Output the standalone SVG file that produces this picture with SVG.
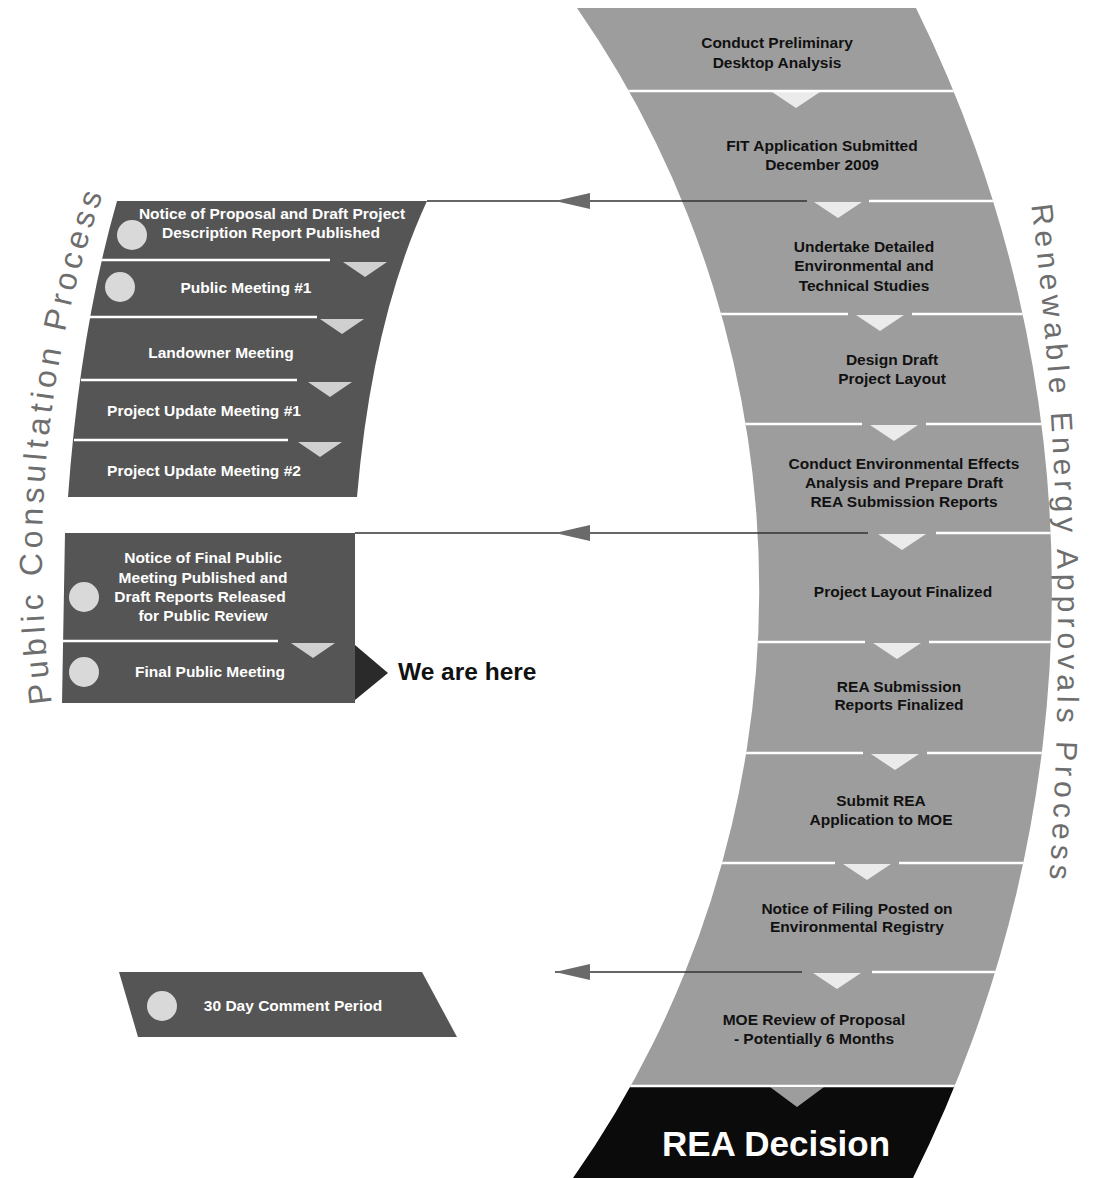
<svg xmlns="http://www.w3.org/2000/svg" width="1102" height="1178" viewBox="0 0 1102 1178">
<style>
.bt{font-family:"Liberation Sans",Arial,sans-serif;font-weight:bold;font-size:15.5px;fill:#111;text-anchor:middle}
.pt{font-family:"Liberation Sans",Arial,sans-serif;font-weight:bold;font-size:15.5px;fill:#fff;text-anchor:middle}
.title{font-family:"Liberation Sans",Arial,sans-serif;font-size:30px;letter-spacing:5px;fill:#6e6e6e}
.ltitle{font-family:"Liberation Sans",Arial,sans-serif;font-size:32px;letter-spacing:4.5px;fill:#6e6e6e}
.div{stroke:#fff;stroke-width:2.5;fill:none}
.chev{fill:#fff;opacity:.8}
.pchev{fill:#e6e6e6;opacity:.85}
.panel{fill:#555}
.dot{fill:#d9d9d9}
.conn{stroke:#333;stroke-width:1.6;fill:none}
.ah{fill:#6a6a6a}
</style>
<defs>
<clipPath id="bandClip"><path d="M577,8 L916,8 A1314,1314 0 0 1 913,1178 L573,1178 A1021,1021 0 0 0 577,8 Z"/></clipPath>
<path id="rtitle" d="M1030,195 A3490,3490 0 0 1 1048,900"/>
<path id="ltitle" d="M53.5,715 A1104,1104 0 0 1 119.4,150"/>
</defs>
<rect width="1102" height="1178" fill="#fff"/>

<g id="rea-band" clip-path="url(#bandClip)">
<rect x="540" y="0" width="540" height="1086" fill="#9d9d9d"/>
<rect x="540" y="1086" width="540" height="100" fill="#0b0b0b"/>
<line class="div" x1="540" y1="91" x2="1080" y2="91"/>
<line class="div" x1="869" y1="201" x2="1080" y2="201"/>
<line class="div" x1="540" y1="314" x2="848" y2="314"/><line class="div" x1="912" y1="314" x2="1080" y2="314"/>
<line class="div" x1="540" y1="424" x2="862" y2="424"/><line class="div" x1="926" y1="424" x2="1080" y2="424"/>
<line class="div" x1="936" y1="533" x2="1080" y2="533"/>
<line class="div" x1="540" y1="642" x2="865" y2="642"/><line class="div" x1="929" y1="642" x2="1080" y2="642"/>
<line class="div" x1="540" y1="753" x2="863" y2="753"/><line class="div" x1="927" y1="753" x2="1080" y2="753"/>
<line class="div" x1="540" y1="863" x2="835" y2="863"/><line class="div" x1="899" y1="863" x2="1080" y2="863"/>
<line class="div" x1="872" y1="972" x2="1080" y2="972"/>
<line class="div" x1="540" y1="1086" x2="1080" y2="1086"/>
<polygon class="chev" points="772,92 820,92 796,108"/>
<polygon class="chev" points="814,202 862,202 838,218"/>
<polygon class="chev" points="856,315 904,315 880,331"/>
<polygon class="chev" points="870,425 918,425 894,441"/>
<polygon class="chev" points="878,534 926,534 902,550"/>
<polygon class="chev" points="873,643 921,643 897,659"/>
<polygon class="chev" points="871,754 919,754 895,770"/>
<polygon class="chev" points="843,864 891,864 867,880"/>
<polygon class="chev" points="813,973 861,973 837,989"/>
<polygon points="770,1087 824,1087 797,1107" fill="#9d9d9d"/>
</g>

<g id="step1"><text class="bt" x="777" y="48">Conduct Preliminary</text><text class="bt" x="777" y="68">Desktop Analysis</text></g>
<g id="step2"><text class="bt" x="822" y="151">FIT Application Submitted</text><text class="bt" x="822" y="170">December 2009</text></g>
<g id="step3"><text class="bt" x="864" y="252">Undertake Detailed</text><text class="bt" x="864" y="271">Environmental and</text><text class="bt" x="864" y="291">Technical Studies</text></g>
<g id="step4"><text class="bt" x="892" y="365">Design Draft</text><text class="bt" x="892" y="384">Project Layout</text></g>
<g id="step5"><text class="bt" x="904" y="469">Conduct Environmental Effects</text><text class="bt" x="904" y="488">Analysis and Prepare Draft</text><text class="bt" x="904" y="507">REA Submission Reports</text></g>
<g id="step6"><text class="bt" x="903" y="597">Project Layout Finalized</text></g>
<g id="step7"><text class="bt" x="899" y="692">REA Submission</text><text class="bt" x="899" y="710">Reports Finalized</text></g>
<g id="step8"><text class="bt" x="881" y="806">Submit REA</text><text class="bt" x="881" y="825">Application to MOE</text></g>
<g id="step9"><text class="bt" x="857" y="914">Notice of Filing Posted on</text><text class="bt" x="857" y="932">Environmental Registry</text></g>
<g id="step10"><text class="bt" x="814" y="1025">MOE Review of Proposal</text><text class="bt" x="814" y="1044">- Potentially 6 Months</text></g>
<g id="rea-decision"><text x="776" y="1156" font-family="Liberation Sans, Arial, sans-serif" font-weight="bold" font-size="35" fill="#fff" text-anchor="middle">REA Decision</text></g>

<g id="title-rea"><text class="title"><textPath href="#rtitle" startOffset="10">Renewable Energy Approvals Process</textPath></text></g>
<g id="title-public"><text class="ltitle"><textPath href="#ltitle" startOffset="12">Public Consultation Process</textPath></text></g>

<g id="panel-early">
<path class="panel" d="M117,201 L427,201 Q372,320 357,497 L68,497 Q80,330 117,201 Z"/>
<line class="div" x1="101" y1="260" x2="330" y2="260"/>
<line class="div" x1="90" y1="317" x2="317" y2="317"/>
<line class="div" x1="81" y1="380" x2="297" y2="380"/>
<line class="div" x1="74" y1="440" x2="288" y2="440"/>
<polygon class="pchev" points="343,262 387,262 365,277"/>
<polygon class="pchev" points="320,319 364,319 342,334"/>
<polygon class="pchev" points="308,382 352,382 330,397"/>
<polygon class="pchev" points="298,442 342,442 320,457"/>
<circle class="dot" cx="132" cy="235" r="15"/>
<circle class="dot" cx="120" cy="287" r="15"/>
<text class="pt" x="272" y="219">Notice of Proposal and Draft Project</text>
<text class="pt" x="271" y="238">Description Report Published</text>
<text class="pt" x="246" y="293">Public Meeting #1</text>
<text class="pt" x="221" y="358">Landowner Meeting</text>
<text class="pt" x="204" y="416">Project Update Meeting #1</text>
<text class="pt" x="204" y="476">Project Update Meeting #2</text>
</g>

<g id="panel-final">
<path class="panel" d="M65,533 L355,533 L355,703 L62,703 Z"/>
<line class="div" x1="63" y1="641" x2="278" y2="641"/>
<polygon class="pchev" points="291,643 335,643 313,658"/>
<circle class="dot" cx="84" cy="597" r="15"/>
<circle class="dot" cx="84" cy="672" r="15"/>
<text class="pt" x="203" y="563">Notice of Final Public</text>
<text class="pt" x="203" y="583">Meeting Published and</text>
<text class="pt" x="200" y="602">Draft Reports Released</text>
<text class="pt" x="203" y="621">for Public Review</text>
<text class="pt" x="210" y="677">Final Public Meeting</text>
</g>

<g id="we-are-here">
<polygon points="355,645 388,673 355,700" fill="#2a2a2a"/>
<text x="398" y="680" font-family="Liberation Sans, Arial, sans-serif" font-weight="bold" font-size="24.5" fill="#111">We are here</text>
</g>

<g id="panel-comment">
<polygon class="panel" points="119,972 422,972 457,1037 138,1037"/>
<circle class="dot" cx="162" cy="1006" r="15"/>
<text class="pt" x="293" y="1011">30 Day Comment Period</text>
</g>

<g id="connectors">
<line class="conn" x1="427" y1="201" x2="807" y2="201"/>
<polygon class="ah" points="555,201 590,193 590,209"/>
<line class="conn" x1="355" y1="533" x2="868" y2="533"/>
<polygon class="ah" points="555,533 590,525 590,541"/>
<line class="conn" x1="555" y1="972" x2="802" y2="972"/>
<polygon class="ah" points="555,972 590,964 590,980"/>
</g>
</svg>
